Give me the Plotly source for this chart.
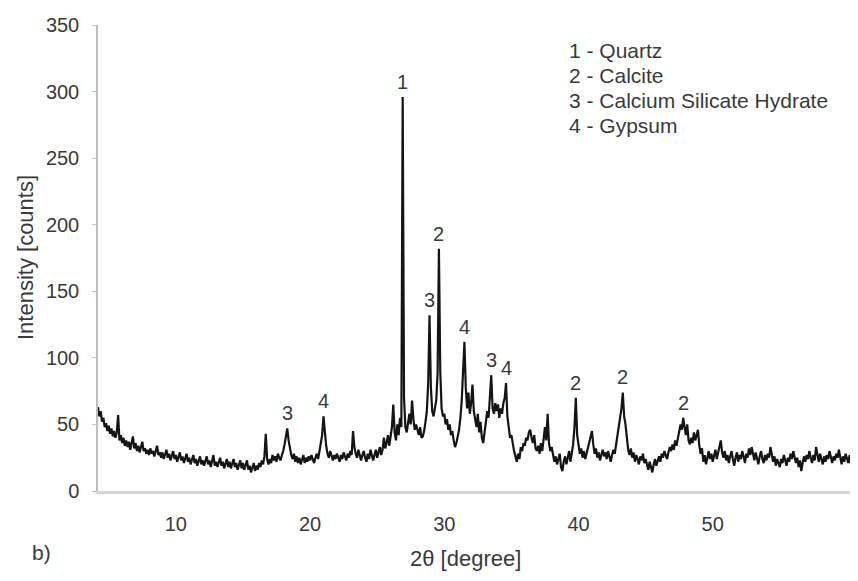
import plotly.graph_objects as go

# XRD pattern, 2θ from 4.2° to 60.5° in 0.1° steps
start_2theta = 4.2
step_2theta = 0.1
intensity = [
    63, 56, 60, 52, 55, 48, 51, 45,                 # 4.2-4.9
    49, 43, 47, 41, 45, 40, 44, 57, 38, 42,         # 5
    36, 40, 34, 38, 33, 37, 31, 35, 41, 32,         # 6
    36, 30, 34, 29, 33, 37, 30, 32, 28, 31,         # 7
    27, 32, 28, 30, 26, 31, 34, 27, 29, 25,         # 8
    29, 24, 27, 31, 25, 28, 23, 26, 30, 24,         # 9
    27, 22, 25, 29, 23, 26, 21, 25, 28, 22,         # 10
    25, 20, 24, 27, 21, 24, 19, 23, 26, 20,         # 11
    23, 19, 22, 26, 20, 23, 18, 22, 27, 19,         # 12
    22, 18, 21, 25, 19, 22, 17, 21, 24, 18,         # 13
    22, 17, 20, 24, 18, 21, 16, 20, 23, 17,         # 14
    21, 16, 19, 23, 16, 19, 14, 18, 21, 15,         # 15
    19, 16, 21, 18, 23, 20, 26, 43, 24, 20,         # 16
    24, 21, 27, 23, 26, 22, 28, 25, 23, 27,         # 17
    30, 35, 41, 47, 38, 31, 27, 24, 28, 22,         # 18
    26, 21, 25, 20, 24, 27, 21, 25, 22, 26,         # 19
    23, 27, 24, 21, 25, 28, 24, 30, 33, 42,         # 20
    56, 43, 34, 28, 25, 30, 26, 23, 27, 24,         # 21
    28, 25, 22, 27, 24, 29, 26, 23, 28, 25,         # 22
    30, 27, 45, 33, 28, 25, 31, 27, 23, 27,         # 23
    30, 25, 22, 28, 24, 31, 26, 23, 27, 31,         # 24
    25, 29, 33, 27, 31, 40, 32, 36, 42, 34,         # 25
    40, 48, 65, 44, 38, 50, 42, 55, 48, 296,        # 26
    70, 48, 44, 52, 58, 50, 68, 54, 46, 50,         # 27
    46, 42, 48, 40, 41, 45, 52, 60, 81, 132,        # 28
    78, 60, 56, 63, 68, 88, 182, 90, 62, 56,        # 29
    58, 50, 54, 46, 50, 42, 45, 38, 33, 36,         # 30
    40, 46, 55, 68, 90, 112, 78, 62, 74, 58,        # 31
    66, 80, 60, 55, 48, 58, 44, 52, 40, 36,         # 32
    45, 52, 60, 55, 70, 87, 62, 58, 66, 60,         # 33
    65, 55, 62, 58, 66, 70, 81, 56, 48, 40,         # 34
    42, 34, 30, 26, 22, 28, 24, 33, 30, 36,         # 35
    34, 40, 38, 44, 46, 40, 36, 42, 32, 30,         # 36
    34, 28, 36, 30, 40, 48, 38, 58, 36, 30,         # 37
    33, 28, 22, 26, 20, 24, 28, 18, 15, 22,         # 38
    26, 20, 25, 30, 22, 28, 35, 48, 70, 42,         # 39
    35, 28, 32, 25, 30, 24, 28, 32, 36, 40,         # 40
    45, 35, 28, 32, 25, 29, 23, 27, 31, 26,         # 41
    29, 24, 30, 26, 22, 27, 31, 28, 35, 42,         # 42
    48, 55, 62, 74, 56, 50, 40, 31, 27, 32,         # 43
    25, 29, 22, 27, 24, 20, 26, 23, 28, 21,         # 44
    24, 19, 16, 22, 18, 14, 20, 24, 19, 23,         # 45
    26, 22, 28, 25, 30, 27, 24, 29, 33, 30,         # 46
    35, 31, 38, 34, 40, 44, 50, 46, 55, 48,         # 47
    42, 50, 38, 35, 40, 36, 44, 38, 42, 46,         # 48
    34, 28, 32, 22, 27, 20, 25, 30, 24, 28,         # 49
    22, 27, 31, 24, 28, 34, 38, 29, 25, 30,         # 50
    23, 27, 21, 26, 30, 24, 19, 25, 29, 22,         # 51
    27, 24, 30, 26, 21, 28, 25, 32, 27, 33,         # 52
    27, 23, 29, 25, 20, 26, 30, 24, 21, 27,         # 53
    23, 28, 25, 33, 27, 22, 26, 19, 24, 21,         # 54
    18, 24, 21, 27, 23, 19, 25, 22, 28, 24,         # 55
    30, 26, 21, 25, 18, 23, 15, 21, 26, 22,         # 56
    27, 24, 30, 25, 21, 27, 23, 33, 26, 22,         # 57
    28, 24, 20, 26, 22, 27, 24, 30, 25, 21,         # 58
    26, 23, 28, 25, 31, 24, 20, 26, 22, 28,         # 59
    24, 21, 27, 20, 25, 46,                         # 60.0-60.5
]
two_theta = [round(start_2theta + step_2theta * i, 1) for i in range(len(intensity))]

# Peak identification labels
peak_positions = [26.9, 29.6, 28.9, 31.5, 33.5, 34.6, 39.8, 43.3, 47.8, 18.3, 21.0]
peak_labels = ["1", "2", "3", "4", "3", "4", "2", "2", "2", "3", "4"]

phase_legend = ["1 - Quartz", "2 - Calcite", "3 - Calcium Silicate Hydrate", "4 - Gypsum"]

x_ticks = [10, 20, 30, 40, 50]
y_ticks = [0, 50, 100, 150, 200, 250, 300, 350]

FONT = "Liberation Sans, Arial, sans-serif"
TXT = "#3a3a3a"

fig = go.Figure()
fig.add_trace(go.Scatter(
    x=two_theta, y=intensity, mode="lines",
    line=dict(color="#141414", width=2.2),
    showlegend=False, hoverinfo="skip",
))

def intensity_at(xv):
    idx = min(range(len(two_theta)), key=lambda i: abs(two_theta[i] - xv))
    return intensity[idx]

annotations = []
for px, lab in zip(peak_positions, peak_labels):
    annotations.append(dict(
        x=px, y=intensity_at(px), xref="x", yref="y", text=lab,
        showarrow=False, yanchor="bottom", xanchor="center", yshift=2,
        font=dict(family=FONT, size=20, color=TXT),
    ))

legend_y = [0.946, 0.891, 0.839, 0.785]
for txt, yy in zip(phase_legend, legend_y):
    annotations.append(dict(
        x=0.619, y=yy, xref="paper", yref="paper", text=txt,
        showarrow=False, xanchor="left", yanchor="middle",
        font=dict(family=FONT, size=21, color=TXT),
    ))

annotations.append(dict(
    x=0.485, y=-0.144, xref="paper", yref="paper", text="2θ [degree]",
    showarrow=False, xanchor="center", yanchor="middle",
    font=dict(family=FONT, size=22, color=TXT),
))
annotations.append(dict(
    x=-0.0964, y=0.5, xref="paper", yref="paper", text="Intensity [counts]",
    showarrow=False, xanchor="center", yanchor="middle", textangle=-90,
    font=dict(family=FONT, size=22, color=TXT),
))
annotations.append(dict(
    x=-0.074, y=-0.131, xref="paper", yref="paper", text="b)",
    showarrow=False, xanchor="center", yanchor="middle",
    font=dict(family=FONT, size=21, color=TXT),
))

# page body has an 8px margin, so the figure is shrunk and shifted accordingly
fig.update_layout(
    width=850, height=573,
    margin=dict(l=90, r=3, t=17, b=90),
    paper_bgcolor="white", plot_bgcolor="white",
    annotations=annotations,
    font=dict(family=FONT, size=20, color=TXT),
)
fig.update_xaxes(
    range=[4.2, 60.6], tickvals=x_ticks, ticktext=[str(t) for t in x_ticks],
    showgrid=False, zeroline=False, showline=True, linecolor="#d6d6d6", linewidth=3,
    ticks="", ticklabelstandoff=13, tickfont=dict(family=FONT, size=20, color=TXT),
)
fig.update_yaxes(
    range=[0, 350], tickvals=y_ticks, ticktext=[str(t) for t in y_ticks],
    showgrid=False, zeroline=False, showline=True, linecolor="#bdbdbd", linewidth=1.5,
    ticks="outside", ticklen=4, tickcolor="#c8c8c8", ticklabelstandoff=9,
    tickfont=dict(family=FONT, size=20, color=TXT),
)

fig.write_html("out.html")
